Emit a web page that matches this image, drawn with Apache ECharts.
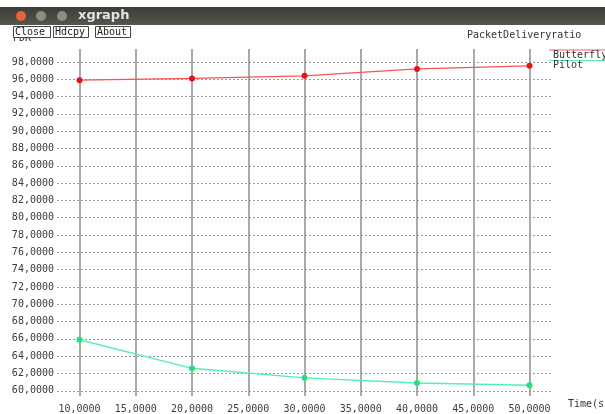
<!DOCTYPE html>
<html>
<head>
<meta charset="utf-8">
<script src="https://cdn.jsdelivr.net/npm/echarts@6/dist/echarts.min.js"></script>
<style>
  html, body { margin: 0; padding: 0; background: #fff; }
  #chart { width: 605px; height: 414px; }
</style>
</head>
<body>
<div id="chart"></div>
<script>
// Simulation time (s) on the x axis
const times = [10, 20, 30, 40, 50];
// Packet delivery ratio per protocol
const butterfly = [95.9, 96.1, 96.4, 97.2, 97.55];
const pilot = [65.9, 62.6, 61.5, 60.9, 60.65];

// Tick values drawn on each axis
const xTicks = [10, 15, 20, 25, 30, 35, 40, 45, 50];
const yTicks = [60, 62, 64, 66, 68, 70, 72, 74, 76, 78, 80, 82, 84, 86, 88, 90, 92, 94, 96, 98];

const MONO = '"DejaVu Sans Mono", "Liberation Mono", monospace';
const fmt = v => v.toFixed(4).replace('.', ',');

const gridLines = [
  ...xTicks.map(v => ({
    xAxis: v,
    lineStyle: { color: '#8c8c8c', width: 1.5, type: 'solid' }
  })),
  ...yTicks.map(v => ({
    yAxis: v,
    lineStyle: { color: '#9a9a9a', width: 1, type: [2, 2] }
  }))
];

const chart = echarts.init(document.getElementById('chart'), null, { renderer: 'canvas' });

chart.setOption({
  animation: false,
  backgroundColor: '#ffffff',
  grid: { left: 57, right: 53, top: 49, bottom: 17, containLabel: false },
  xAxis: {
    type: 'value',
    min: 8,
    max: 52,
    axisLine: { show: false },
    axisTick: { show: false },
    splitLine: { show: false },
    axisLabel: {
      customValues: xTicks,
      formatter: fmt,
      fontFamily: MONO,
      fontSize: 10,
      color: '#3c3c3c',
      margin: 8
    }
  },
  yAxis: {
    type: 'value',
    min: 59.4,
    max: 99.5,
    axisLine: { show: false },
    axisTick: { show: false },
    splitLine: { show: false },
    axisLabel: {
      customValues: yTicks,
      formatter: fmt,
      fontFamily: MONO,
      fontSize: 10,
      color: '#3c3c3c',
      margin: 3
    }
  },
  series: [
    {
      name: 'Butterfly',
      type: 'line',
      data: times.map((t, i) => [t, butterfly[i]]),
      symbol: 'circle',
      symbolSize: 6,
      itemStyle: { color: '#ee1111' },
      lineStyle: { color: '#f25555', width: 1.2 },
      z: 5,
      markLine: {
        silent: true,
        symbol: 'none',
        label: { show: false },
        emphasis: { disabled: true },
        z: 1,
        data: gridLines
      }
    },
    {
      name: 'Pilot',
      type: 'line',
      data: times.map((t, i) => [t, pilot[i]]),
      symbol: 'circle',
      symbolSize: 6,
      itemStyle: { color: '#22e27a' },
      lineStyle: { color: '#55efb4', width: 1.4 },
      z: 5
    }
  ],
  graphic: [
    // window title bar
    {
      type: 'rect', z: 100,
      shape: { x: 0, y: 7, width: 605, height: 18 },
      style: {
        fill: new echarts.graphic.LinearGradient(0, 0, 0, 1, [
          { offset: 0, color: '#3d3c38' },
          { offset: 1, color: '#57554f' }
        ])
      }
    },
    { type: 'circle', z: 101, shape: { cx: 21, cy: 16, r: 5 }, style: { fill: '#e8633a' } },
    { type: 'circle', z: 101, shape: { cx: 41, cy: 16, r: 5 }, style: { fill: '#8e8c86' } },
    { type: 'circle', z: 101, shape: { cx: 62, cy: 16, r: 5 }, style: { fill: '#8e8c86' } },
    {
      type: 'text', z: 101, x: 78, y: 16,
      style: { text: 'xgraph', fill: '#e4e3df', font: 'bold 13px "DejaVu Sans", sans-serif', verticalAlign: 'middle' }
    },
    // y axis unit, partly hidden under the buttons
    {
      type: 'text', z: 50, x: 13, y: 38,
      style: { text: 'PDR', fill: '#333', font: '10px ' + MONO, verticalAlign: 'middle' }
    },
    // buttons
    ...[['Close', 13, 37], ['Hdcpy', 53, 35], ['About', 95, 35]].flatMap(([label, x, w]) => [
      {
        type: 'rect', z: 60,
        shape: { x: x + 0.5, y: 26.5, width: w, height: 11 },
        style: { fill: '#fff', stroke: '#444', lineWidth: 1 }
      },
      {
        type: 'text', z: 61, x: x + 2, y: 32,
        style: { text: label, fill: '#222', font: '10px ' + MONO, verticalAlign: 'middle' }
      }
    ]),
    // chart title
    {
      type: 'text', z: 50, x: 467, y: 35,
      style: { text: 'PacketDeliveryratio', fill: '#333', font: '10px ' + MONO, verticalAlign: 'middle' }
    },
    // legend
    { type: 'line', z: 50, shape: { x1: 549, y1: 50, x2: 605, y2: 50 }, style: { stroke: '#f06060', lineWidth: 1.2 } },
    {
      type: 'text', z: 50, x: 553, y: 55.5,
      style: { text: 'Butterfly', fill: '#333', font: '10px ' + MONO, verticalAlign: 'middle' }
    },
    { type: 'line', z: 50, shape: { x1: 549, y1: 60.5, x2: 605, y2: 60.5 }, style: { stroke: '#55efb4', lineWidth: 1.2 } },
    {
      type: 'text', z: 50, x: 553, y: 65.5,
      style: { text: 'Pilot', fill: '#333', font: '10px ' + MONO, verticalAlign: 'middle' }
    },
    // x axis unit
    {
      type: 'text', z: 50, x: 568, y: 404,
      style: { text: 'Time(s', fill: '#333', font: '10px ' + MONO, verticalAlign: 'middle' }
    }
  ]
});
</script>
</body>
</html>
